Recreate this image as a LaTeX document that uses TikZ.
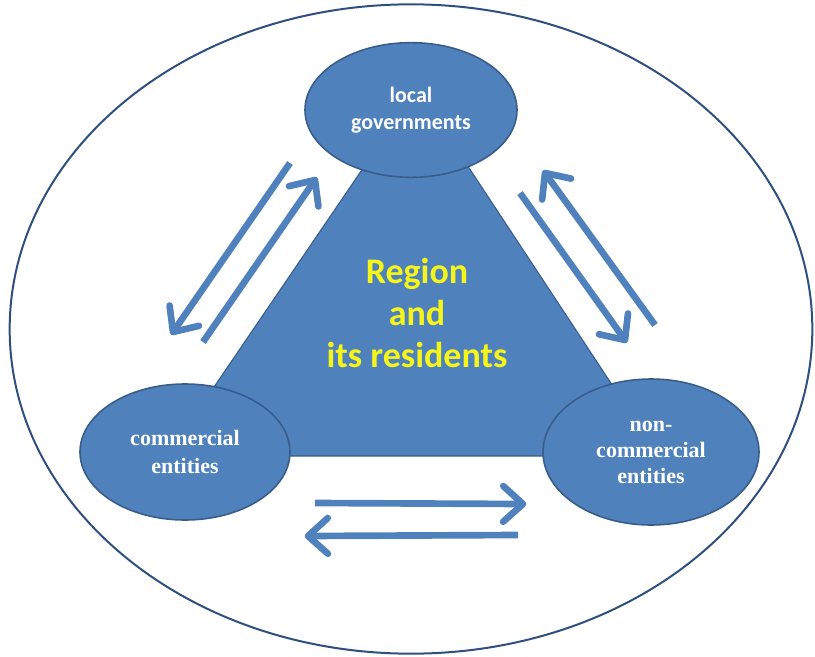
\documentclass[tikz,border=0pt]{standalone}
\usepackage{fontspec}
\setmainfont{Carlito}
\newfontfamily\serifbold{Liberation Serif}
\usetikzlibrary{shapes.geometric,calc}
\definecolor{boxblue}{HTML}{4F81BD}
\definecolor{edgeblue}{HTML}{385D8A}
\definecolor{ringblue}{HTML}{2F4F7F}
\definecolor{textyellow}{HTML}{F5F51A}
% shaft from #1 to #2 plus an open barb at #2
\newcommand{\flowarrow}[2]{%
  \draw[flow] (#1) -- (#2);
  \draw[flow, line cap=round, line join=round]
    ($(#2)!20pt!42:(#1)$) -- (#2) -- ($(#2)!20pt!-42:(#1)$);}

\begin{document}
\begin{tikzpicture}[x=0.75pt, y=-0.75pt,
  actor/.style={ellipse, draw=edgeblue, line width=1.2pt, fill=boxblue, text=white, align=center, inner sep=0pt},
  flow/.style={line width=5pt, draw=boxblue}
]
\useasboundingbox (0,0) rectangle (815,657);
% outer ring
\draw[ringblue, line width=1.5pt] (411,329) ellipse [x radius=301pt, y radius=243.5pt];
% central triangle
\coordinate (apex) at (417,89);
\coordinate (cornerL) at (167,456);
\coordinate (cornerR) at (659,456);
\filldraw[fill=boxblue, draw=edgeblue, line width=0.8pt] (apex) -- (cornerL) -- (cornerR) -- cycle;
\node[text=textyellow, font=\fontsize{27}{31.5}\selectfont\bfseries, align=center] (region) at (417,313)
  {Region\\and\\its residents};
% the three actors
\node[actor, minimum width=159pt, minimum height=101pt, font=\fontsize{16.5}{20.5}\selectfont\bfseries] (gov) at (411,110)
  {local\\governments};
\node[actor, minimum width=157.5pt, minimum height=102pt, font=\serifbold\fontsize{16.5}{20.5}\selectfont\bfseries] (com) at (185,452)
  {commercial\\entities};
\node[actor, minimum width=162pt, minimum height=109.5pt, font=\serifbold\fontsize{16.5}{19.5}\selectfont\bfseries] (noncom) at (651,452)
  {non-\\commercial\\entities};
% arrows between actors
\coordinate (gc1) at (290,163);  \coordinate (gc2) at (173,332);
\coordinate (cg1) at (203,342);  \coordinate (cg2) at (315,180);
\coordinate (gn1) at (520,193);  \coordinate (gn2) at (625,340);
\coordinate (ng1) at (655,325);  \coordinate (ng2) at (545,173);
\coordinate (cn1) at (315,503);  \coordinate (cn2) at (523,504);
\coordinate (nc1) at (518,535);  \coordinate (nc2) at (308,536);
\flowarrow{gc1}{gc2}
\flowarrow{cg1}{cg2}
\flowarrow{gn1}{gn2}
\flowarrow{ng1}{ng2}
\flowarrow{cn1}{cn2}
\flowarrow{nc1}{nc2}
\end{tikzpicture}
\end{document}
